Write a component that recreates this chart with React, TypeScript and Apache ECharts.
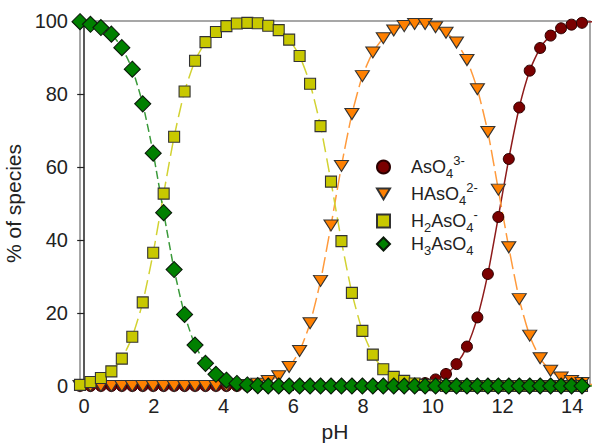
import React, { useEffect, useRef } from "react";
import * as echarts from "echarts";

const pH = [
  -0.12, 0.18, 0.48, 0.78, 1.08, 1.38, 1.68, 1.98, 2.28, 2.58,
  2.88, 3.18, 3.48, 3.78, 4.08, 4.38, 4.68, 4.98, 5.28, 5.58,
  5.88, 6.18, 6.48, 6.78, 7.08, 7.38, 7.68, 7.98, 8.28, 8.58,
  8.88, 9.18, 9.48, 9.78, 10.08, 10.38, 10.68, 10.98, 11.28, 11.58,
  11.88, 12.18, 12.48, 12.78, 13.08, 13.38, 13.68, 13.98, 14.28, 14.58,
];

const AsO4 = [
  0, 0, 0, 0, 0, 0, 0, 0, 0, 0,
  0, 0, 0, 0, 0, 0, 0, 0, 0, 0,
  0, 0, 0, 0, 0, 0, 0, 0, 0, 0,
  0, 0, 0, 0.8, 1.8, 3.3, 6.0, 10.8, 18.8, 30.7,
  46.3, 62.2, 76.3, 86.4, 92.6, 96.0, 98.0, 99.0, 99.5, 99.8,
];

const HAsO4 = [
  0, 0, 0, 0, 0, 0, 0, 0, 0, 0,
  0, 0, 0, 0, 0, 0.1, 0.3, 0.6, 1.4, 2.7,
  5.2, 9.6, 17.2, 28.8, 44.0, 60.3, 74.5, 84.9, 91.4, 95.3,
  97.4, 98.6, 99.2, 99.2, 98.3, 96.8, 94.1, 89.3, 81.3, 69.6,
  53.8, 38.0, 23.8, 13.8, 7.6, 4.2, 2.3, 1.4, 0.8, 0.4,
];

const H2AsO4 = [
  0.3, 1.1, 2.2, 4.0, 7.5, 13.5, 22.9, 36.5, 52.7, 68.3,
  80.7, 89.1, 94.2, 97.0, 98.6, 99.3, 99.5, 99.4, 98.7, 97.5,
  94.9, 90.4, 82.8, 71.2, 56.0, 39.7, 25.5, 15.1, 8.6, 4.6,
  2.5, 1.4, 0.7, 0.3, 0.2, 0, 0, 0, 0, 0,
  0, 0, 0, 0, 0, 0, 0, 0, 0, 0,
];

const H3AsO4 = [
  99.8, 99.1, 98.2, 96.4, 92.7, 86.8, 77.3, 63.8, 47.5, 31.9,
  19.6, 11.2, 6.2, 3.2, 1.6, 0.7, 0.3, 0.1, 0, 0,
  0, 0, 0, 0, 0, 0, 0, 0, 0, 0,
  0, 0, 0, 0, 0, 0, 0, 0, 0, 0,
  0, 0, 0, 0, 0, 0, 0, 0, 0, 0,
];

const xTicks = [0, 2, 4, 6, 8, 10, 12, 14];
const seriesNames = ["AsO4", "HAsO4", "H2AsO4", "H3AsO4"];
const legendLabels: Record<string, string> = {
  AsO4: "{f|AsO}{b|4}{p|3-}",
  HAsO4: "{f|HAsO}{b|4}{p|2-}",
  H2AsO4: "{f|H}{b|2}{n|AsO}{b|4}{p|-}",
  H3AsO4: "{f|H}{b|3}{n|AsO}{b|4}",
};

const FONT = "'Liberation Sans', Arial, sans-serif";
const TXT = "#222";

export default function App() {
  const ref = useRef<HTMLDivElement>(null);
  useEffect(() => {
    if (!ref.current) return;
    const chart = echarts.init(ref.current, undefined, { renderer: "svg" });
    const pts = (arr: number[]) => pH.map((x, i) => [x, arr[i]]);
    chart.setOption({
      animation: false,
      backgroundColor: "#fff",
      textStyle: { fontFamily: FONT },
      grid: {
        left: 80,
        right: 10,
        top: 21,
        bottom: 60,
        containLabel: false,
        outerBoundsMode: "none",
        show: true,
        borderColor: "#8a8a8a",
        borderWidth: 1.5,
        backgroundColor: "transparent",
      },
      xAxis: {
        type: "value",
        min: -0.12,
        max: 14.51,
        name: "pH",
        nameLocation: "middle",
        nameGap: 34,
        nameTextStyle: { fontSize: 21, color: TXT, fontFamily: FONT },
        axisLine: { show: true, lineStyle: { color: "#222", width: 1.5 } },
        axisTick: { show: true, inside: false, length: 5, customValues: xTicks, lineStyle: { color: "#222" } },
        axisLabel: { customValues: xTicks, fontSize: 20, color: TXT, margin: 10, fontFamily: FONT },
        splitLine: { show: false },
      },
      yAxis: {
        type: "value",
        min: 0,
        max: 100,
        interval: 20,
        name: "% of species",
        nameLocation: "middle",
        nameGap: 49,
        nameTextStyle: { fontSize: 21, color: TXT, fontFamily: FONT },
        axisLine: { show: true, lineStyle: { color: "#222", width: 1.5 } },
        axisTick: { show: true, inside: false, length: 7, lineStyle: { color: "#222", width: 1.2 } },
        axisLabel: { fontSize: 20, color: TXT, margin: 12, fontFamily: FONT },
        splitLine: { show: false },
      },
      legend: {
        orient: "vertical",
        left: 371,
        top: 149,
        itemWidth: 13,
        itemHeight: 13,
        itemGap: 1,
        data: [
          { name: seriesNames[0], icon: "circle" },
          { name: seriesNames[1], icon: "path://M0,0L12,0L6,10Z" },
          { name: seriesNames[2], icon: "rect" },
          { name: seriesNames[3], icon: "diamond" },
        ],
        formatter: (name: string) => legendLabels[name] || name,
        textStyle: {
          color: TXT,
          fontFamily: FONT,
          rich: {
            f: { fontSize: 18, lineHeight: 26, color: TXT, fontFamily: FONT, padding: [0, 0, 0, 16] },
            n: { fontSize: 18, lineHeight: 26, color: TXT, fontFamily: FONT },
            b: { fontSize: 13, lineHeight: 13, verticalAlign: "bottom", color: TXT, fontFamily: FONT },
            p: { fontSize: 13, lineHeight: 13, verticalAlign: "top", color: TXT, fontFamily: FONT },
          },
        },
      },
      series: [
        {
          name: seriesNames[0],
          type: "line",
          data: pts(AsO4),
          symbol: "circle",
          symbolSize: 11,
          smooth: 0.2,
          lineStyle: { color: "#8e1b1b", width: 1.5, type: "solid" },
          itemStyle: { color: "#7a0000", borderColor: "#2a0000", borderWidth: 1 },
        },
        {
          name: seriesNames[1],
          type: "line",
          data: pts(HAsO4),
          symbol: "triangle",
          symbolRotate: 180,
          symbolSize: [14, 11],
          smooth: 0.2,
          lineStyle: { color: "#ff9a3c", width: 1.5, type: [16, 5] },
          itemStyle: { color: "#ff8000", borderColor: "#333", borderWidth: 1.1 },
        },
        {
          name: seriesNames[2],
          type: "line",
          data: pts(H2AsO4),
          symbol: "rect",
          symbolSize: 11,
          smooth: 0.2,
          lineStyle: { color: "#d2d232", width: 1.5, type: [14, 6] },
          itemStyle: { color: "#c8c800", borderColor: "#333", borderWidth: 1.1 },
        },
        {
          name: seriesNames[3],
          type: "line",
          data: pts(H3AsO4),
          symbol: "diamond",
          symbolSize: 16,
          smooth: 0.2,
          lineStyle: { color: "#3a9a3a", width: 1.5, type: [8, 4] },
          itemStyle: { color: "#008000", borderColor: "#0a1a0a", borderWidth: 1.1 },
        },
      ],
    });
    return () => chart.dispose();
  }, []);
  return (
    <div
      ref={ref}
      style={{ position: "fixed", left: 0, top: 0, width: 600, height: 446, background: "#fff" }}
    />
  );
}
